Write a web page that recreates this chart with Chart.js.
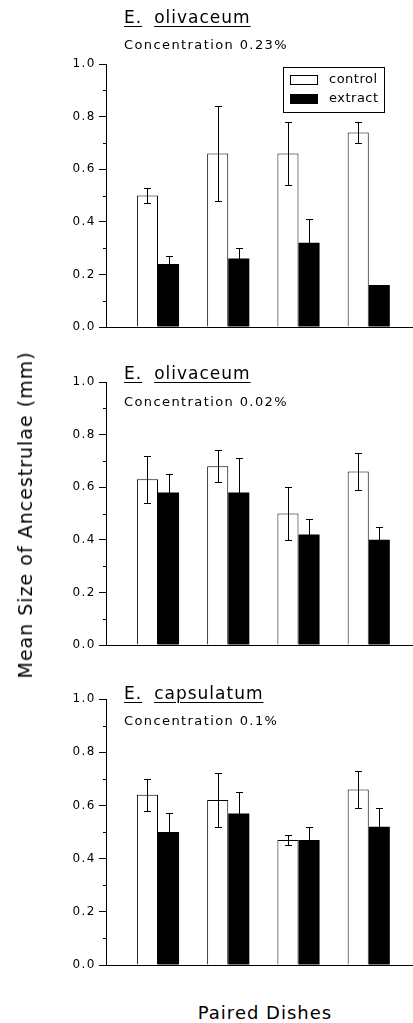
<!DOCTYPE html>
<html>
<head>
<meta charset="utf-8">
<script src="https://cdn.jsdelivr.net/npm/chart.js@4.4.0/dist/chart.umd.min.js"></script>
<style>
  body { margin: 0; background: #fff; }
  #wrap { position: relative; width: 413px; height: 1023px; font-family: "DejaVu Sans", sans-serif; color: #000; overflow: hidden; }
  canvas { position: absolute; left: 0; }
  .lbl { position: absolute; white-space: nowrap; line-height: 20px; }
  .sp { font-size: 17px; letter-spacing: 1px; }
  .sp u { text-decoration-thickness: 1px; text-underline-offset: 3px; }
  .conc { font-size: 13px; letter-spacing: 1.4px; }
  #ytitle { position: absolute; left: 25px; top: 515px; transform: translate(-50%, -50%) rotate(-90deg); font-size: 19px; letter-spacing: 1px; white-space: nowrap; }
  #xtitle { position: absolute; left: 265px; top: 1012px; transform: translate(-50%, -50%); font-size: 18px; letter-spacing: 1px; white-space: nowrap; }
</style>
</head>
<body>
<div id="wrap">
  <canvas id="c1" width="413" height="340" style="top:0px"></canvas>
  <canvas id="c2" width="413" height="320" style="top:340px"></canvas>
  <canvas id="c3" width="413" height="320" style="top:660px"></canvas>
  <div id="ytitle">Mean Size of Ancestrulae (mm)</div>
  <div id="xtitle">Paired Dishes</div>
</div>
<script>
// data
const dishes = [1, 2, 3, 4];
const seriesNames = ['control', 'extract'];
const species = ['olivaceum', 'olivaceum', 'capsulatum'];
const concentrations = ['Concentration 0.23%', 'Concentration 0.02%', 'Concentration 0.1%'];

const control1 = [0.50, 0.66, 0.66, 0.74];
const controlErr1 = [0.03, 0.18, 0.12, 0.04];
const extract1 = [0.24, 0.26, 0.32, 0.16];
const extractErr1 = [0.03, 0.04, 0.09, 0];

const control2 = [0.63, 0.68, 0.50, 0.66];
const controlErr2 = [0.09, 0.06, 0.10, 0.07];
const extract2 = [0.58, 0.58, 0.42, 0.40];
const extractErr2 = [0.07, 0.13, 0.06, 0.05];

const control3 = [0.64, 0.62, 0.47, 0.66];
const controlErr3 = [0.06, 0.10, 0.02, 0.07];
const extract3 = [0.50, 0.57, 0.47, 0.52];
const extractErr3 = [0.07, 0.08, 0.05, 0.07];

const yTicks = [0, 0.2, 0.4, 0.6, 0.8, 1.0];
const yMinorTicks = [0.1, 0.3, 0.5, 0.7, 0.9];

// page layout
const titleY = [17, 373, 693];
const concY = [45, 402, 721];
const wrap = document.getElementById('wrap');
species.forEach((s, i) => {
  const t = document.createElement('div');
  t.className = 'lbl sp';
  t.style.left = '124px';
  t.style.top = (titleY[i] - 10) + 'px';
  t.innerHTML = '<u>E.</u><u style="margin-left:12px">' + s + '</u>';
  wrap.appendChild(t);
  const c = document.createElement('div');
  c.className = 'lbl conc';
  c.style.left = '124px';
  c.style.top = (concY[i] - 10) + 'px';
  c.textContent = concentrations[i];
  wrap.appendChild(c);
});

const spacing = {
  id: 'spacing',
  beforeDraw(chart) { chart.ctx.letterSpacing = '1.5px'; }
};

const errorBars = {
  id: 'errorBars',
  afterDatasetsDraw(chart) {
    const ctx = chart.ctx;
    const y = chart.scales.y;
    ctx.save();
    ctx.strokeStyle = '#000';
    ctx.lineWidth = 1;
    chart.data.datasets.forEach((ds, di) => {
      chart.getDatasetMeta(di).data.forEach((bar, i) => {
        const e = ds.errors[i];
        if (!e) return;
        const v = ds.data[i].y;
        const top = Math.round(y.getPixelForValue(v + e)) + 0.5;
        const bot = Math.round(y.getPixelForValue(v - e)) + 0.5;
        const x = Math.round(bar.x) + 0.5;
        ctx.beginPath();
        ctx.moveTo(x, top); ctx.lineTo(x, bot);
        ctx.moveTo(x - 3.5, top); ctx.lineTo(x + 3.5, top);
        ctx.moveTo(x - 3.5, bot); ctx.lineTo(x + 3.5, bot);
        ctx.stroke();
      });
    });
    ctx.restore();
  }
};

const minorTicks = {
  id: 'minorTicks',
  afterDraw(chart) {
    const ctx = chart.ctx;
    const y = chart.scales.y;
    const x0 = chart.chartArea.left;
    ctx.save();
    ctx.strokeStyle = '#000';
    ctx.lineWidth = 1;
    ctx.beginPath();
    yMinorTicks.forEach(v => {
      const py = Math.round(y.getPixelForValue(v)) + 0.5;
      ctx.moveTo(x0 - 3, py); ctx.lineTo(x0, py);
    });
    ctx.stroke();
    ctx.restore();
  }
};

const boxLegend = {
  id: 'boxLegend',
  afterDraw(chart, args, opts) {
    if (!opts.show) return;
    const ctx = chart.ctx;
    const b = opts.box;
    ctx.save();
    ctx.letterSpacing = '0.5px';
    ctx.strokeStyle = '#000';
    ctx.lineWidth = 1;
    ctx.strokeRect(b.left + 0.5, b.top + 0.5, b.width, b.height);
    chart.data.datasets.forEach((ds, i) => {
      const sy = b.top + 8 + i * 19;
      ctx.fillStyle = ds.backgroundColor;
      ctx.fillRect(b.left + 7, sy, 28, 10);
      ctx.strokeRect(b.left + 7.5, sy + 0.5, 27, 9);
      ctx.fillStyle = '#000';
      ctx.font = '13px "DejaVu Sans"';
      ctx.textBaseline = 'middle';
      ctx.fillText(ds.label, b.left + 46, sy + 5);
    });
    ctx.restore();
  }
};

function makePanel(id, control, controlErr, extract, extractErr, padTop, padBottom, legend) {
  new Chart(document.getElementById(id), {
    type: 'bar',
    data: {
      datasets: [{
        label: seriesNames[0],
        data: dishes.map((d, i) => ({ x: d, y: control[i] })),
        errors: controlErr,
        backgroundColor: '#fff',
        borderColor: '#000',
        borderWidth: 1,
        categoryPercentage: 0.6,
        barPercentage: 1.0
      }, {
        label: seriesNames[1],
        data: dishes.map((d, i) => ({ x: d, y: extract[i] })),
        errors: extractErr,
        backgroundColor: '#000',
        borderColor: '#000',
        borderWidth: 0,
        categoryPercentage: 0.6,
        barPercentage: 1.0
      }]
    },
    options: {
      responsive: false,
      animation: false,
      devicePixelRatio: 1,
      layout: { padding: { top: padTop, bottom: padBottom, left: 0, right: 0 } },
      plugins: {
        legend: { display: false },
        tooltip: { enabled: false },
        boxLegend: { show: legend, box: { left: 283, top: 67, width: 101, height: 45 } }
      },
      scales: {
        x: {
          type: 'linear',
          offset: false,
          min: 0.26,
          max: 4.63,
          afterBuildTicks: s => { s.ticks = dishes.map(v => ({ value: v })); },
          afterFit: s => { s.height = 0; },
          ticks: { display: false },
          grid: { display: false, offset: false },
          border: { display: true, color: '#000', width: 1 }
        },
        y: {
          min: 0,
          max: 1,
          afterBuildTicks: s => { s.ticks = yTicks.map(v => ({ value: v })); },
          afterFit: s => { s.width = 106; },
          ticks: {
            color: '#000',
            padding: 3,
            font: { family: 'DejaVu Sans', size: 12 },
            callback: v => Number(v).toFixed(1)
          },
          grid: { drawOnChartArea: false, tickLength: 7, color: '#000', tickColor: '#000', lineWidth: 1 },
          border: { display: true, color: '#000', width: 1 }
        }
      }
    },
    plugins: [spacing, errorBars, minorTicks, boxLegend]
  });
}

makePanel('c1', control1, controlErr1, extract1, extractErr1, 64, 13, true);
makePanel('c2', control2, controlErr2, extract2, extractErr2, 42, 15, false);
makePanel('c3', control3, controlErr3, extract3, extractErr3, 39, 15, false);
</script>
</body>
</html>
